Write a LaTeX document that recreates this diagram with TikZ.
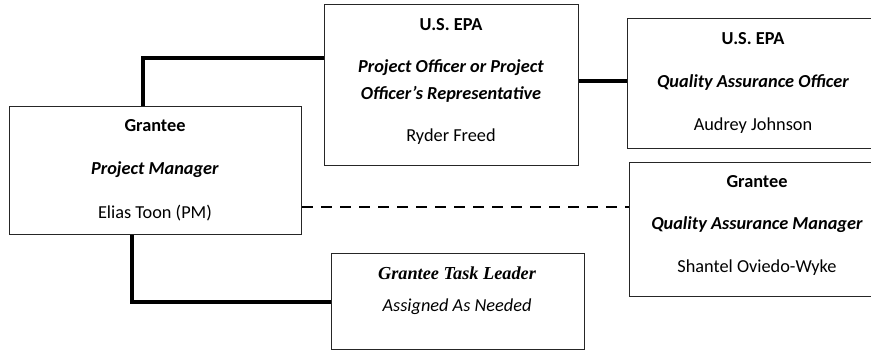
\documentclass[tikz,border=0pt]{standalone}
\usepackage{fontspec}
\setmainfont{Carlito}
\newfontfamily\tnr{Liberation Serif}
\usetikzlibrary{calc}
\tikzset{
  box/.style={draw=black!85, line width=1.3pt, rectangle, inner sep=0pt, anchor=north west},
  txt/.style={inner sep=0pt, font=\fontsize{18.3}{22}\selectfont, anchor=center},
  conn/.style={line width=3.2pt, black},
  dconn/.style={line width=2.8pt, black, dash pattern=on 11pt off 8pt}
}
\begin{document}
\begin{tikzpicture}[x=1pt,y=-1pt]
\useasboundingbox (0,0) rectangle (871,351);
% boxes
\node[box, minimum width=292pt, minimum height=128pt] (pm) at (9,106) {};
\node[box, minimum width=254pt, minimum height=161pt] (po) at (324,4) {};
\node[box, minimum width=260pt, minimum height=130pt] (qao) at (627,18) {};
\node[box, minimum width=260pt, minimum height=134pt] (qam) at (629,162) {};
\node[box, minimum width=253pt, minimum height=96pt] (tl) at (331,253) {};
% texts
\node[txt] (pm1) at (155,126) {\textbf{Grantee}};
\node[txt] (pm2) at (155,170) {\textbf{\textit{Project Manager}}};
\node[txt] (pm3) at (155,213) {Elias Toon (PM)};
\node[txt] (po1) at (451,25) {\textbf{U.S. EPA}};
\node[txt] (po2) at (451,68) {\textbf{\textit{Project Officer or Project}}};
\node[txt] (po3) at (451,94) {\textbf{\textit{Officer’s Representative}}};
\node[txt] (po4) at (451,137) {Ryder Freed};
\node[txt] (qao1) at (753,39) {\textbf{U.S. EPA}};
\node[txt] (qao2) at (753,82) {\textbf{\textit{Quality Assurance Officer}}};
\node[txt] (qao3) at (753,126) {Audrey Johnson};
\node[txt] (qam1) at (757,182) {\textbf{Grantee}};
\node[txt] (qam2) at (757,225) {\textbf{\textit{Quality Assurance Manager}}};
\node[txt] (qam3) at (757,268) {Shantel Oviedo-Wyke};
\node[txt] (tl1) at (457,273) {\tnr\bfseries\itshape Grantee Task Leader};
\node[txt] (tl2) at (457,307) {\itshape Assigned As Needed};
% connectors
\coordinate (pmtop) at ($(pm.north west)+(134,0)$);
\coordinate (potap) at ($(po.north west)+(0,54)$);
\draw[conn] (pmtop) |- (potap);
\coordinate (poright) at ($(po.north east)+(0,77)$);
\draw[conn] (poright) -- (poright -| qao.west);
\coordinate (pmright) at ($(pm.north east)+(0,101)$);
\draw[dconn] (pmright) -- (pmright -| qam.west);
\coordinate (pmbot) at ($(pm.south west)+(123,0)$);
\coordinate (tltap) at ($(tl.north west)+(0,49)$);
\draw[conn] (pmbot) |- (tltap);
\end{tikzpicture}
\end{document}
